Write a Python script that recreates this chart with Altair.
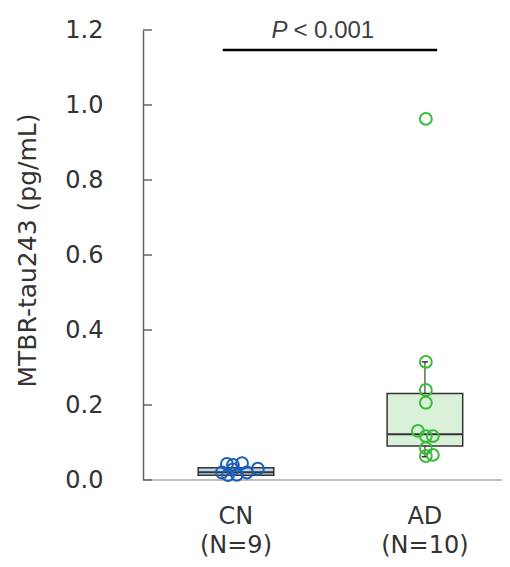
import altair as alt
import pandas as pd

# ---- data ----
groups = ["CN", "AD"]
group_n = ["(N=9)", "(N=10)"]
cn_values = [0.043, 0.040, 0.045, 0.020, 0.013, 0.014, 0.020, 0.030, 0.028]
cn_jitter = [-0.048, -0.016, 0.032, -0.074, -0.042, 0.005, 0.058, 0.116, -0.016]
ad_values = [0.963, 0.315, 0.240, 0.206, 0.131, 0.117, 0.117, 0.085, 0.064, 0.067]
ad_jitter = [0.005, 0.005, 0.005, 0.005, -0.037, 0.005, 0.042, 0.005, 0.005, 0.042]

box_q1 = [0.013, 0.091]
box_median = [0.021, 0.122]
box_q3 = [0.033, 0.231]
whisker_low = [0.013, 0.062]
whisker_high = [0.033, 0.315]

y_ticks = [0.0, 0.2, 0.4, 0.6, 0.8, 1.0, 1.2]
sig_start, sig_end, sig_y = -0.07, 1.065, 1.147
sig_text_y = 1.179

colors_line = ["#1a5fb8", "#3cba3c"]
colors_fill = ["#bdd7ee", "#d8f1d8"]

HW = 0.2    # half box width (group units)
CAP = 0.016 # half cap width

pts = pd.DataFrame(
    [{"group": "CN", "gi": 0, "x": 0 + j, "value": v} for v, j in zip(cn_values, cn_jitter)]
    + [{"group": "AD", "gi": 1, "x": 1 + j, "value": v} for v, j in zip(ad_values, ad_jitter)]
)
box = pd.DataFrame({
    "group": groups, "gi": [0, 1], "n": group_n,
    "q1": box_q1, "med": box_median, "q3": box_q3,
    "lo": whisker_low, "hi": whisker_high,
})
box["xl"] = box["gi"] - HW
box["xr"] = box["gi"] + HW
box["cl"] = box["gi"] - CAP
box["cr"] = box["gi"] + CAP

W, H = 359, 450
xscale = alt.Scale(domain=[-0.492, 1.408], nice=False, zero=False)
yscale = alt.Scale(domain=[0, 1.2], nice=False, zero=True)
col_line = alt.Scale(domain=groups, range=colors_line)
col_fill = alt.Scale(domain=groups, range=colors_fill)

yaxis = alt.Axis(
    values=y_ticks, format=".1f", grid=False, ticks=False, tickSize=0,
    domain=True, domainColor="#666666", domainWidth=1.5,
    labelFont="DejaVu Sans", labelFontSize=24, labelColor="#333333",
    labelPadding=40, labelFlush=False, labelOverlap=False,
    title="MTBR-tau243 (pg/mL)", titleFont="DejaVu Sans", titleFontSize=25,
    titleFontWeight="normal", titleColor="#333333",
    titleX=-116, titleY=220, titleAngle=-90, titleAlign="center",
    titleBaseline="middle",
)

base_box = alt.Chart(box)

baseline = alt.Chart(pd.DataFrame({"v": [0.0]})).mark_rule(
    color="#aaaaaa", strokeWidth=1.5
).encode(
    y=alt.Y("v:Q", scale=yscale, axis=yaxis),
    x=alt.value(0), x2=alt.value(W + 10),
)

tick_marks = alt.Chart(pd.DataFrame({"v": y_ticks})).mark_rule(
    color="#666666", strokeWidth=1.5
).encode(
    y=alt.Y("v:Q", scale=yscale), x=alt.value(0), x2=alt.value(9)
)

whisk_lo = base_box.mark_rule(color="#666666", strokeWidth=1.5).encode(
    x=alt.X("gi:Q", scale=xscale, axis=None),
    y=alt.Y("lo:Q", scale=yscale), y2="q1:Q",
)
whisk_hi = base_box.mark_rule(color="#666666", strokeWidth=1.5).encode(
    x=alt.X("gi:Q", scale=xscale, axis=None),
    y=alt.Y("q3:Q", scale=yscale), y2="hi:Q",
)
cap_lo = base_box.mark_rule(color="#333333", strokeWidth=1.5).encode(
    x=alt.X("cl:Q", scale=xscale, axis=None), x2="cr:Q",
    y=alt.Y("lo:Q", scale=yscale),
)
cap_hi = base_box.mark_rule(color="#333333", strokeWidth=1.5).encode(
    x=alt.X("cl:Q", scale=xscale, axis=None), x2="cr:Q",
    y=alt.Y("hi:Q", scale=yscale),
)
boxes = base_box.mark_rect(stroke="#333333", strokeWidth=1.5).encode(
    x=alt.X("xl:Q", scale=xscale, axis=None), x2="xr:Q",
    y=alt.Y("q1:Q", scale=yscale), y2="q3:Q",
    fill=alt.Fill("group:N", scale=col_fill, legend=None),
)
medians = base_box.mark_rule(color="#333333", strokeWidth=2).encode(
    x=alt.X("xl:Q", scale=xscale, axis=None), x2="xr:Q",
    y=alt.Y("med:Q", scale=yscale),
)
points = alt.Chart(pts).mark_point(
    shape="circle", filled=False, size=140, strokeWidth=2, opacity=1
).encode(
    x=alt.X("x:Q", scale=xscale, axis=None),
    y=alt.Y("value:Q", scale=yscale),
    stroke=alt.Stroke("group:N", scale=col_line, legend=None),
)

cat_labels = base_box.mark_text(
    font="DejaVu Sans", fontSize=24, color="#333333", baseline="alphabetic"
).encode(
    x=alt.X("gi:Q", scale=xscale, axis=None), y=alt.value(H + 44), text="group:N"
)
n_labels = base_box.mark_text(
    font="DejaVu Sans", fontSize=24, color="#333333", baseline="alphabetic"
).encode(
    x=alt.X("gi:Q", scale=xscale, axis=None), y=alt.value(H + 73), text="n:N"
)

sig = pd.DataFrame({"x1": [sig_start], "x2": [sig_end], "y": [sig_y],
                    "mid": [0.5], "ty": [sig_text_y]})
sig_line = alt.Chart(sig).mark_rule(color="#000000", strokeWidth=2.5).encode(
    x=alt.X("x1:Q", scale=xscale, axis=None), x2="x2:Q",
    y=alt.Y("y:Q", scale=yscale),
)
sig_p = alt.Chart(sig).mark_text(
    text="P", font="Liberation Sans", fontStyle="italic", fontSize=24,
    color="#404040", align="right", baseline="alphabetic", dx=-43,
).encode(x=alt.X("mid:Q", scale=xscale, axis=None), y=alt.Y("ty:Q", scale=yscale))
sig_rest = alt.Chart(sig).mark_text(
    text="< 0.001", font="Liberation Sans", fontSize=24,
    color="#404040", align="left", baseline="alphabetic", dx=-37,
).encode(x=alt.X("mid:Q", scale=xscale, axis=None), y=alt.Y("ty:Q", scale=yscale))

chart = alt.layer(
    baseline, tick_marks, whisk_lo, whisk_hi, cap_lo, cap_hi, boxes, medians,
    points, cat_labels, n_labels, sig_line, sig_p, sig_rest
).properties(
    width=W, height=H,
    autosize=alt.AutoSizeParams(type="none"),
    padding={"left": 135, "top": 22, "right": 0, "bottom": 79},
).configure(background="white", view=alt.ViewConfig(stroke=None))

chart.save("out.html", embed_options={"renderer": "svg", "actions": False})
